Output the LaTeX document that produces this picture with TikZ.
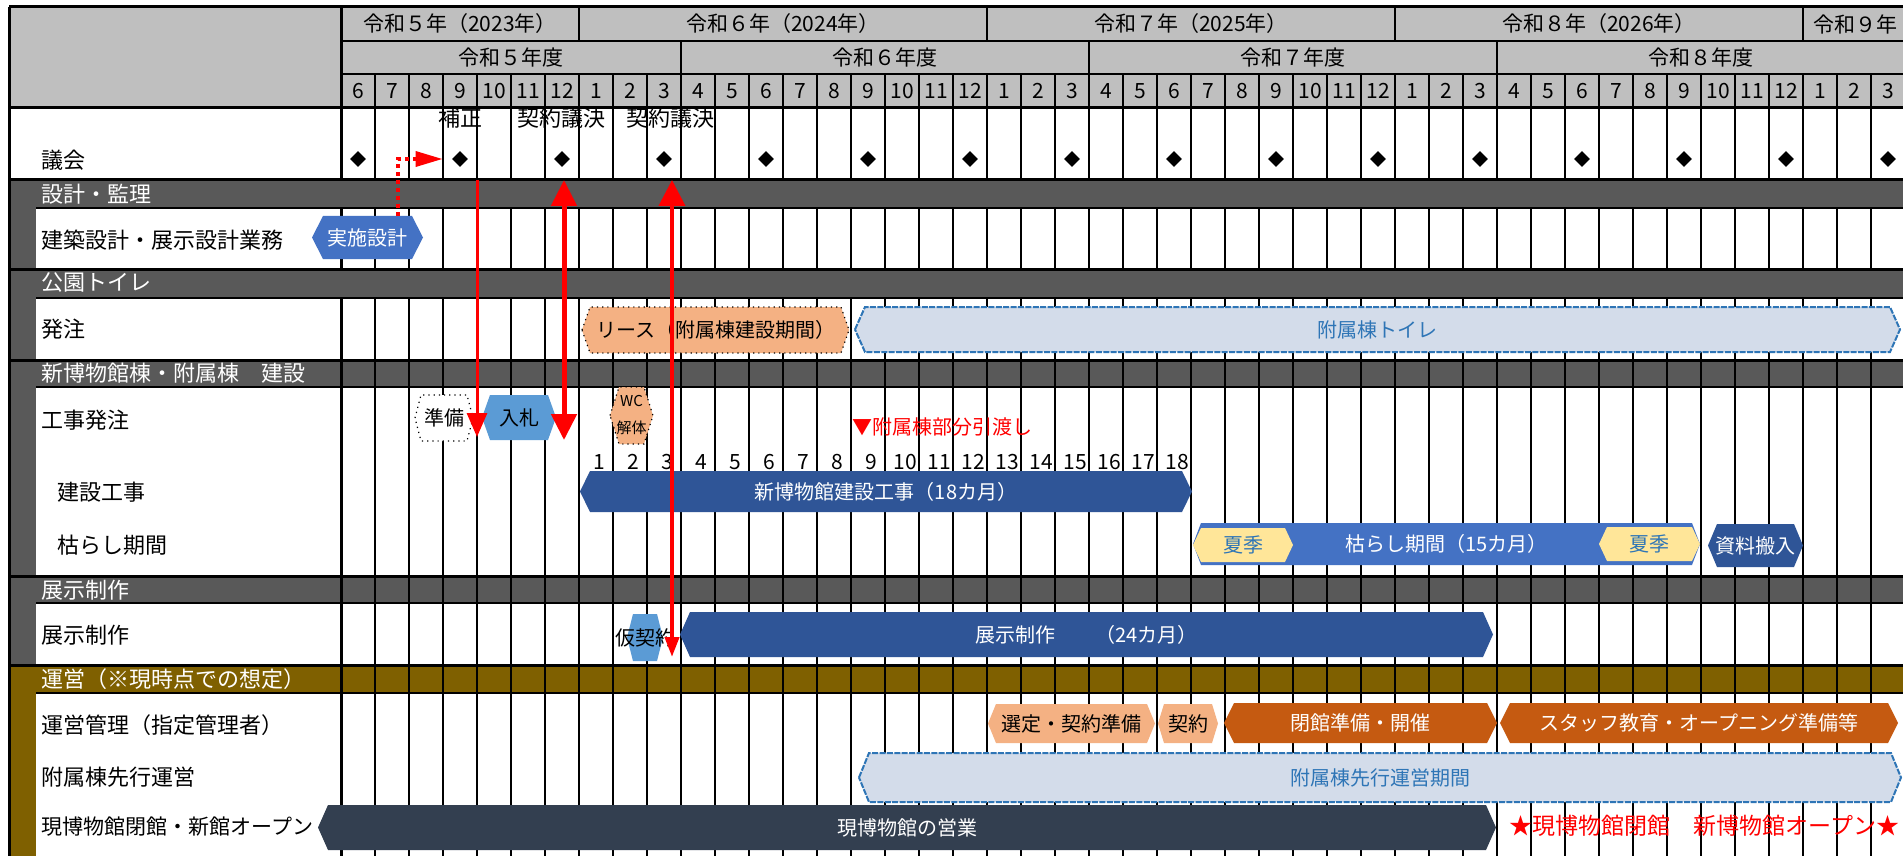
\documentclass[tikz,border=0pt]{standalone}
\usepackage{fontspec}
\setmainfont{Noto Sans CJK JP}
\usetikzlibrary{arrows.meta,shapes.geometric}
\definecolor{hdrgray}{HTML}{BFBFBF}
\definecolor{secgray}{HTML}{595959}
\definecolor{opbrown}{HTML}{7F6000}
\definecolor{cBlue}{HTML}{4472C4}
\definecolor{cLight}{HTML}{5B9BD5}
\definecolor{cDark}{HTML}{2F5597}
\definecolor{cOrange}{HTML}{F4B183}
\definecolor{cBrownOr}{HTML}{C55A11}
\definecolor{cYellow}{HTML}{FFE699}
\definecolor{cSlate}{HTML}{333F50}
\definecolor{cText}{HTML}{2E75B6}
\definecolor{cPat}{HTML}{D3DCEA}
\tikzset{
  lbl/.style={anchor=west,inner sep=0pt,font=\fontsize{11}{13}\selectfont},
  seclbl/.style={lbl,text=white},
  hdr/.style={inner sep=0pt,font=\fontsize{10.5}{12}\selectfont},
  bartxt/.style={inner sep=0pt,font=\fontsize{10}{12}\selectfont},
  gikai/.style={diamond,fill=black,inner sep=0pt,minimum width=8pt,minimum height=8pt},
  grid/.style={line width=1pt},
  border/.style={line width=1.5pt},
  dotbar/.style={draw=black,dotted,line width=0.6pt},
  patbar/.style={fill=cPat,draw=cText,line width=1pt,dash pattern=on 3pt off 0.7pt},
  redline/.style={draw=red}
}
% hexagon bar: style, name, x1, x2, y1, y2, point depth, text style, text
\newcommand{\hexbar}[9]{%
  \path[#1] (#3,{(#5+#6)/2}) -- ({#3+#7},#5) -- ({#4-#7},#5) -- (#4,{(#5+#6)/2})
    -- ({#4-#7},#6) -- ({#3+#7},#6) -- cycle;
  \node[bartxt,#8] (#2) at ({(#3+#4)/2},{(#5+#6)/2}) {#9};}
\begin{document}
\begin{tikzpicture}[x=0.5pt,y=-0.5pt]
  \useasboundingbox (0,0) rectangle (1903,856);
  \clip (0,0) rectangle (1903,856);
  \fill[white] (0,0) rectangle (1903,856);
  % header and section bands
  \fill[hdrgray] (9,7) rectangle (1905,108);
  \fill[secgray] (9,360) rectangle (1905,387);
  \fill[secgray] (9,576) rectangle (1905,603);
  \fill[opbrown] (9,665) rectangle (1905,693);
  \fill[secgray] (9,180) rectangle (36,665);
  \fill[opbrown] (9,665) rectangle (36,856);
  \foreach \i in {1,...,45}
    \draw[grid] ({341+34*\i},74) -- ({341+34*\i},856);
  \fill[secgray] (9,180) rectangle (1905,208);
  \fill[secgray] (9,269) rectangle (1905,298);
  \foreach \x in {579,987,1395,1803}
    \draw[grid] (\x,7) -- (\x,41);
  \foreach \x in {681,1089,1497}
    \draw[grid] (\x,41) -- (\x,74);
  \draw[border] (9,7) -- (1905,7);
  \draw[grid] (341,41) -- (1905,41);
  \draw[grid] (341,74) -- (1905,74);
  \foreach \y in {108,180,269,360,576,665}
    \draw[border] (9,\y) -- (1905,\y);
  \foreach \y in {208,298,387,603,693}
    \draw[grid] (36,\y) -- (1905,\y);
  \draw[border] (9,7) -- (9,856);
  \draw[border] (341,7) -- (341,180);
  \draw[border] (341,208) -- (341,269);
  \draw[border] (341,298) -- (341,856);

  % calendar
  \node[hdr] (y5) at (460,24) {令和５年（2023年）};
  \node[hdr] (y6) at (783,24) {令和６年（2024年）};
  \node[hdr] (y7) at (1191,24) {令和７年（2025年）};
  \node[hdr] (y8) at (1599,24) {令和８年（2026年）};
  \node[hdr,anchor=west] (y9) at (1813,24) {令和９年};
  \node[hdr] (f5) at (511,57) {令和５年度};
  \node[hdr] (f6) at (885,57) {令和６年度};
  \node[hdr] (f7) at (1293,57) {令和７年度};
  \node[hdr] (f8) at (1701,57) {令和８年度};
  \foreach \i in {0,...,45}{
    \pgfmathtruncatemacro{\m}{mod(\i+5,12)+1}
    \node[hdr] (m\i) at ({358+34*\i},91) {\m};
  }
  \foreach \i [count=\k] in {0,3,...,45}
    \node[gikai] (g\k) at ({358+34*\i},159) {};
  \node[lbl,anchor=center] (hosei) at (460,118) {補正};
  \node[lbl,anchor=center] (giketsu1) at (561,118) {契約議決};
  \node[lbl,anchor=center] (giketsu2) at (670,118) {契約議決};
  \foreach \n in {1,...,18}
    \node[hdr] (k\n) at ({361+34*(6+\n)},462) {\n};

  % bars
  \hexbar{fill=cBlue}{jisshi}{312}{423}{216}{259}{11}{text=white}{実施設計}
  \hexbar{fill=cOrange,dotbar}{lease}{582}{849}{307}{353}{8}{}{リース（附属棟建設期間）}
  \hexbar{patbar}{toilet}{855}{1900}{307}{352}{10}{text=cText}{附属棟トイレ}
  \hexbar{fill=white,dotbar}{junbi}{415}{473}{395}{441}{6}{}{準備}
  \hexbar{fill=cLight}{nyusatsu}{482}{556}{395}{440}{8}{}{入札}
  \hexbar{fill=cOrange,dotbar}{wc}{610}{653}{387}{444}{9}{align=center,font=\fontsize{7.5}{13.5}\selectfont}{WC\\解体}
  \hexbar{fill=cDark}{kensetsu}{580}{1192}{471}{512}{10}{text=white}{新博物館建設工事（18カ月）}
  \hexbar{fill=cBlue}{karashi}{1193}{1700}{523}{565}{8}{text=white}{枯らし期間（15カ月）}
  \hexbar{fill=cYellow}{kaki1}{1193}{1293}{528}{562}{8}{text=cText}{夏季}
  \hexbar{fill=cYellow}{kaki2}{1599}{1700}{527}{561}{8}{text=cText}{夏季}
  \hexbar{fill=cDark}{shiryo}{1708}{1803}{524}{567}{9}{text=white}{資料搬入}
  \hexbar{fill=cLight}{karikei}{627}{663}{614}{661}{6}{}{仮契約}
  \hexbar{fill=cDark}{tenji}{680}{1493}{612}{657}{10}{text=white}{展示制作　　（24カ月）}
  \hexbar{fill=cOrange}{sentei}{988}{1155}{704}{743}{8}{}{選定・契約準備}
  \hexbar{fill=cOrange}{keiyaku}{1158}{1218}{704}{743}{6}{}{契約}
  \hexbar{fill=cBrownOr}{heikan}{1224}{1497}{703}{743}{10}{text=white}{閉館準備・開催}
  \hexbar{fill=cBrownOr}{staff}{1500}{1898}{703}{743}{10}{text=white}{スタッフ教育・オープニング準備等}
  \hexbar{patbar}{senko}{859}{1901}{753}{802}{10}{text=cText}{附属棟先行運営期間}
  \hexbar{fill=cSlate}{eigyo}{318}{1496}{805}{850}{10}{text=white}{現博物館の営業}

  % red arrows
  \coordinate (dotS) at (398,216);
  \coordinate (aTop) at (477,180);
  \coordinate (aEnd) at (477,437);
  \coordinate (bTop) at (564,180);
  \coordinate (bEnd) at (564,440);
  \coordinate (cTop) at (672,180);
  \coordinate (cEnd) at (672,657);
  \draw[redline,line width=1.75pt,dash pattern=on 2pt off 2pt,shorten >=4.5pt,
    -{Triangle[length=13.5pt,width=7.5pt]}] (dotS) |- (g2.west);
  \draw[redline,line width=1.5pt,-{Triangle[length=12pt,width=10pt]}] (aTop) -- (aEnd);
  \draw[redline,line width=2.5pt,{Triangle[length=13pt,width=12.5pt]}-{Triangle[length=13pt,width=12.5pt]}] (bTop) -- (bEnd);
  \draw[redline,line width=2pt,{Triangle[length=13pt,width=13pt]}-{Triangle[length=10pt,width=7pt]}] (cTop) -- (cEnd);

  % row labels
  \node[lbl] (lGikai) at (41,160) {議会};
  \node[seclbl] (s1) at (41,194) {設計・監理};
  \node[lbl] (lKenchiku) at (41,240) {建築設計・展示設計業務};
  \node[seclbl] (s2) at (41,283) {公園トイレ};
  \node[lbl] (lHatchu) at (41,329) {発注};
  \node[seclbl] (s3) at (41,373) {新博物館棟・附属棟　建設};
  \node[lbl] (lKoji) at (41,420) {工事発注};
  \node[lbl] (lKensetsu) at (57,492) {建設工事};
  \node[lbl] (lKarashi) at (57,545) {枯らし期間};
  \node[seclbl] (s4) at (41,590) {展示制作};
  \node[lbl] (lTenji) at (41,635) {展示制作};
  \node[seclbl] (s5) at (41,679) {運営（※現時点での想定）};
  \node[lbl] (lUnei) at (41,725) {運営管理（指定管理者）};
  \node[lbl] (lSenko) at (41,777) {附属棟先行運営};
  \node[lbl,font=\fontsize{10.5}{12}\selectfont] (lGen) at (41,827) {現博物館閉館・新館オープン};

  % notes
  \node[lbl,text=red,font=\fontsize{10}{12}\selectfont] (hikiwatashi) at (852,427) {▼附属棟部分引渡し};
  \node[lbl,text=red,font=\fontsize{11.5}{13}\selectfont] (open) at (1509,826) {★現博物館閉館　新博物館オープン★};
\end{tikzpicture}
\end{document}
